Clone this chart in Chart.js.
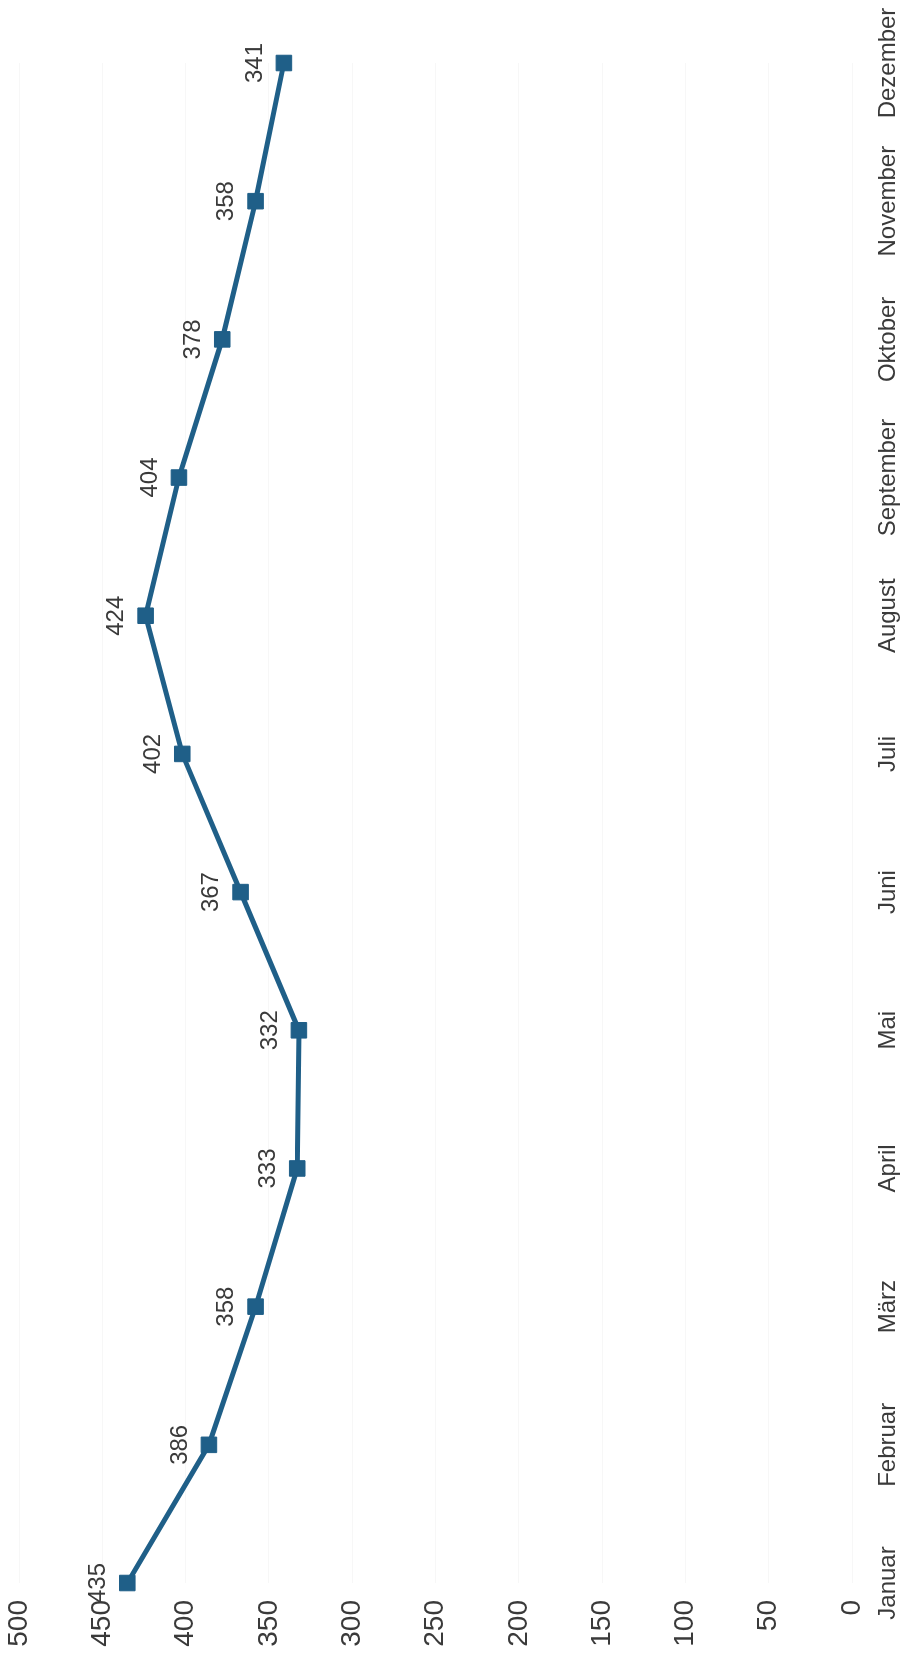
<!DOCTYPE html>
<html>
<head>
<meta charset="utf-8">
<script src="https://cdn.jsdelivr.net/npm/chart.js@4"></script>
<style>
  html, body { margin: 0; padding: 0; background: #fff; overflow: hidden; }
  body { width: 907px; height: 1656px; position: relative; }
  /* the scanned chart is turned a quarter to the left */
  #wrap {
    position: absolute; left: 0; top: 0;
    width: 1656px; height: 907px;
    transform-origin: 0 0;
    transform: translateY(1656px) rotate(-90deg);
  }
</style>
</head>
<body>
<div id="wrap"><canvas id="chart" width="1656" height="907"></canvas></div>
<script>
const months = ['Januar', 'Februar', 'März', 'April', 'Mai', 'Juni', 'Juli', 'August', 'September', 'Oktober', 'November', 'Dezember']
const values = [435, 386, 358, 333, 332, 367, 402, 424, 404, 378, 358, 341]
const yMin = 0
const yMax = 500
const yStep = 50

const lineColor = '#1f5f88'
const textColor = '#3a3a3a'

// values written above each point
const valueLabels = {
    id: 'valueLabels',
    afterDatasetsDraw(chart) {
        const ctx = chart.ctx
        const meta = chart.getDatasetMeta(0)
        ctx.save()
        ctx.font = '24px "Liberation Sans", Arial, sans-serif'
        ctx.fillStyle = textColor
        ctx.textAlign = 'center'
        ctx.textBaseline = 'middle'
        meta.data.forEach((pt, i) => {
            ctx.fillText(String(values[i]), pt.x, pt.y - 29)
        })
        ctx.restore()
    }
}

const config = {
    type: 'line',
    data: {
        labels: [...months],
        datasets: [{
            data: [...values],
            borderColor: lineColor,
            backgroundColor: lineColor,
            borderWidth: 5,
            tension: 0,
            fill: false,
            pointStyle: 'rect',
            pointRadius: 11,
            pointBorderWidth: 1,
            pointBackgroundColor: lineColor,
            pointBorderColor: lineColor
        }]
    },
    options: {
        responsive: false,
        animation: false,
        devicePixelRatio: 1,
        layout: {
            padding: { top: 19, right: 63, left: 0, bottom: 0 }
        },
        plugins: {
            legend: false,
            tooltip: { enabled: false }
        },
        scales: {
            x: {
                offset: false,
                grid: { display: false },
                border: { display: false },
                ticks: {
                    color: textColor,
                    font: { family: '"Liberation Sans", Arial, sans-serif', size: 24 },
                    padding: 14,
                    maxRotation: 0,
                    autoSkip: false
                },
                afterFit: (scale) => {
                    scale.height = 55
                    scale.paddingLeft = 0
                    scale.paddingRight = 0
                }
            },
            y: {
                min: yMin,
                max: yMax,
                grid: {
                    color: '#f7f7f7',
                    lineWidth: 1,
                    drawTicks: false
                },
                border: { display: false },
                ticks: {
                    stepSize: yStep,
                    color: textColor,
                    font: { family: '"Liberation Sans", Arial, sans-serif', size: 28 },
                    padding: 17
                },
                afterFit: (scale) => {
                    scale.width = 73
                    scale.paddingTop = 0
                    scale.paddingBottom = 0
                }
            }
        }
    },
    plugins: [valueLabels]
}

new Chart(document.getElementById('chart'), config)
</script>
</body>
</html>
